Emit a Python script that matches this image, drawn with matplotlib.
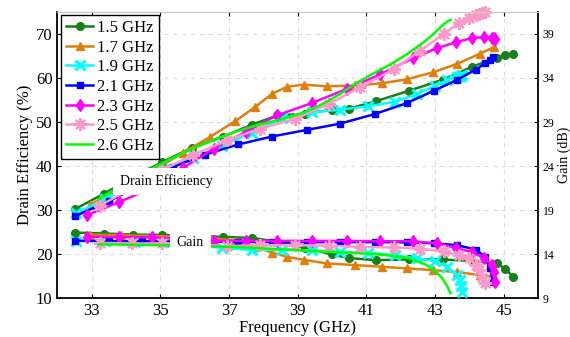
import matplotlib
matplotlib.use("Agg")
import matplotlib.pyplot as plt

plt.rcParams['font.family'] = ['Liberation Serif', 'DejaVu Serif']

# ---- measured data: frequency (GHz), drain efficiency (%), gain (dB) ----
labels = ['1.5 GHz', '1.7 GHz', '1.9 GHz', '2.1 GHz', '2.3 GHz', '2.5 GHz', '2.6 GHz']

f15 = [32.51, 33.36, 34.2, 35.06, 35.93, 36.83, 37.67, 38.41, 39.22, 40.0, 40.48,
       41.27, 42.24, 43.22, 44.09, 44.81, 45.05, 45.28]
eff15 = [30.2, 33.7, 37.5, 40.9, 44.2, 46.7, 49.4, 51.5, 51.9, 52.8, 53.0,
         54.7, 57.1, 59.6, 62.6, 64.6, 65.3, 65.4]
gain15 = [16.44, 16.33, 16.21, 16.17, 16.05, 15.94, 15.83, 15.4, 14.7, 13.95, 13.55,
          13.3, 13.38, 13.38, 13.2, 12.93, 12.3, 11.4]

f17 = [32.95, 33.85, 34.75, 35.65, 36.45, 37.18, 37.76, 38.25, 38.69, 39.17, 39.85,
       40.68, 41.45, 42.18, 42.94, 43.64, 44.3, 44.71]
eff17 = [31.2, 35.0, 38.8, 43.0, 46.6, 50.2, 53.4, 56.4, 58.0, 58.5, 58.1,
         58.3, 58.8, 59.7, 61.3, 63.2, 65.5, 67.0]
gain17 = [16.2, 16.13, 16.05, 15.95, 15.85, 15.5, 14.8, 14.17, 13.68, 13.35, 12.93,
          12.74, 12.55, 12.36, 12.17, 11.95, 11.6, 11.4]

f19 = [32.55, 33.4, 34.25, 35.1, 35.95, 36.8, 37.66, 38.54, 39.41, 40.24, 41.06,
       41.83, 42.48, 43.0, 43.35, 43.64, 43.72, 43.76, 43.8]
eff19 = [29.3, 32.5, 36.0, 39.3, 41.8, 44.6, 47.6, 50.8, 52.2, 52.8, 53.6,
         54.6, 56.4, 58.2, 59.5, 60.3, 60.4, 60.5, 60.6]
gain19 = [15.5, 15.45, 15.42, 15.38, 15.0, 14.7, 14.45, 14.5, 14.4, 14.24, 14.13,
          13.87, 13.5, 13.2, 12.55, 11.6, 11.0, 10.4, 9.7]

f21 = [32.51, 33.5, 34.45, 35.37, 36.3, 37.27, 38.25, 39.26, 40.22, 41.24, 42.18,
       42.96, 43.65, 44.18, 44.46, 44.6, 44.69]
eff21 = [28.6, 32.0, 35.8, 39.8, 42.6, 44.9, 46.7, 48.2, 49.6, 51.8, 54.3,
         57.1, 59.6, 61.9, 63.3, 64.0, 64.7]
gain21 = [15.5, 15.48, 15.45, 15.42, 15.4, 15.38, 15.36, 15.35, 15.35, 15.35, 15.32,
          15.22, 15.0, 14.5, 13.7, 12.4, 10.8]

f23 = [32.85, 33.8, 34.75, 35.65, 36.55, 37.5, 38.39, 39.41, 40.43, 41.4, 42.36,
       43.06, 43.6, 44.08, 44.44, 44.66, 44.73, 44.76]
eff23 = [28.8, 31.8, 35.0, 39.5, 43.9, 47.8, 51.5, 54.3, 57.5, 60.8, 64.5,
         66.8, 68.1, 69.1, 69.3, 69.1, 69.0, 68.9]
gain23 = [15.95, 15.93, 15.9, 15.7, 15.5, 15.5, 15.49, 15.49, 15.49, 15.45, 15.45,
          15.2, 14.7, 14.2, 13.5, 12.75, 11.9, 10.85]

f25 = [33.24, 34.17, 35.04, 35.95, 36.94, 37.9, 38.93, 39.9, 40.82, 41.8, 42.57,
       43.25, 43.69, 44.0, 44.2, 44.27, 44.37, 44.45]
eff25 = [31.0, 35.0, 39.0, 42.5, 45.8, 48.5, 50.7, 54.1, 57.9, 62.0, 66.2,
         70.0, 72.4, 73.7, 74.3, 74.5, 74.8, 75.0]
gain25 = [15.26, 15.2, 15.2, 15.1, 14.9, 15.0, 15.0, 14.95, 14.8, 14.75, 14.6,
          14.3, 13.87, 13.5, 12.8, 12.2, 11.4, 10.7]

f26 = [33.2, 33.7, 34.2, 34.7, 35.2, 35.7, 36.2, 36.7, 37.2, 37.7, 38.2, 38.7,
       39.2, 39.7, 40.2, 40.7, 41.2, 41.7, 42.2, 42.7, 43.0, 43.2, 43.35, 43.45]
eff26 = [32.5, 34.8, 37.0, 39.2, 41.2, 43.1, 44.8, 46.4, 47.8, 49.0, 50.0, 51.0,
         52.2, 54.0, 56.2, 58.8, 61.0, 63.1, 65.5, 68.3, 70.3, 71.9, 72.8, 73.2]
gain26 = [15.1, 15.08, 15.05, 15.02, 15.0, 14.95, 14.9, 14.85, 14.78, 14.7, 14.6, 14.5,
          14.4, 14.3, 14.2, 14.1, 14.0, 13.82, 13.55, 12.85, 12.1, 11.3, 10.4, 9.55]

freqs = [f15, f17, f19, f21, f23, f25, f26]
effs = [eff15, eff17, eff19, eff21, eff23, eff25, eff26]
gains = [gain15, gain17, gain19, gain21, gain23, gain25, gain26]

colors = ['#178017', '#DF7F0E', '#00FFFF', '#0000FF', '#FF00FF', '#FF99C8', '#00FF00']
markers = ['o', '^', 'x', 's', 'd', (8, 2, 0), None]
msizes = [5.5, 6, 6.5, 5, 6, 9, 0]
mews = [1, 1, 2.2, 1, 1, 1.6, 1]

fig = plt.figure(figsize=(5.7, 3.37), dpi=100)
ax = fig.add_axes([0.1007, 0.1157, 0.8432, 0.8487])
ax2 = ax.twinx()

handles = []
for f, e, g, c, m, ms, mew, lab in zip(freqs, effs, gains, colors, markers, msizes, mews, labels):
    h, = ax.plot(f, e, color=c, marker=m, markersize=ms, markeredgewidth=mew,
                 markerfacecolor=c, markeredgecolor=c, linewidth=1.8, label=lab,
                 clip_on=False)
    ax2.plot(f, g, color=c, marker=m, markersize=ms, markeredgewidth=mew,
             markerfacecolor=c, markeredgecolor=c, linewidth=1.8, clip_on=False)
    handles.append(h)

ax.set_xlim(32, 46)
ax.set_ylim(10, 75)
ax2.set_ylim(9, 41.5)

ax.set_xticks([33, 35, 37, 39, 41, 43, 45])
ax.set_yticks([10, 20, 30, 40, 50, 60, 70])
ax2.set_yticks([9, 14, 19, 24, 29, 34, 39])

ax.grid(True, linestyle=(0, (4, 4)), color='#dcdcdc', linewidth=0.8)
ax.set_axisbelow(True)

ax.tick_params(axis='both', direction='in', labelsize=12, length=3, width=0.8,
               top=True, colors='black')
ax2.tick_params(axis='y', direction='in', labelsize=8.5, length=3, width=0.8)

for sp in ['left', 'bottom']:
    ax.spines[sp].set_linewidth(1.3)
ax2.spines['right'].set_linewidth(1.3)
ax2.spines['left'].set_visible(False)
ax2.spines['bottom'].set_visible(False)
ax.spines['top'].set_color('#c8c8c8')
ax2.spines['top'].set_color('#c8c8c8')
ax.spines['right'].set_visible(False)

ax.set_xlabel('Frequency (GHz)', fontsize=12, labelpad=1)
ax.set_ylabel('Drain Efficiency (%)', fontsize=12, labelpad=2)
ax2.set_ylabel('Gain (dB)', fontsize=10, labelpad=2)

ax.text(35.17, 36.5, 'Drain Efficiency', fontsize=10, ha='center', va='center',
        bbox=dict(facecolor='white', edgecolor='none', pad=5), zorder=10)
ax2.text(35.87, 15.3, 'Gain', fontsize=10, ha='center', va='center',
         bbox=dict(facecolor='white', edgecolor='none', pad=5), zorder=10)

leg = ax2.legend(handles, labels, loc='upper left', bbox_to_anchor=(0.008, 0.99),
                 borderaxespad=0, fontsize=12, frameon=True, fancybox=False,
                 edgecolor='black', framealpha=1, handlelength=1.6,
                 handletextpad=0.25, labelspacing=0.22, borderpad=0.3, numpoints=1)
leg.get_frame().set_linewidth(1.0)

fig.savefig('out.png', dpi=100)
